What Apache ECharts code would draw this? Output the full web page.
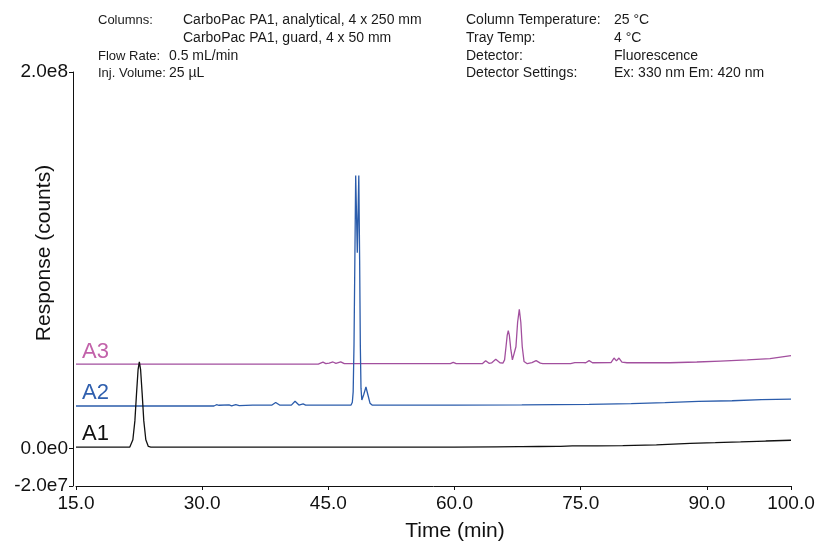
<!DOCTYPE html>
<html>
<head>
<meta charset="utf-8">
<script src="https://cdn.jsdelivr.net/npm/echarts@6/dist/echarts.min.js"></script>
<style>html,body{margin:0;padding:0;background:#fff}#c{width:820px;height:544px}</style>
</head>
<body>
<div id="c"></div>
<script>
// ---- data ----
var seriesNames = ['A1', 'A2', 'A3'];
var xTicks = [15, 30, 45, 60, 75, 90, 100];
var yTicks = [-2e7, 0, 2e8];
var xTitle = 'Time (min)';
var yTitle = 'Response (counts)';

var A1 = [
  [15, 0.7e6], [21.4, 0.7e6], [21.76, 4.6e6], [22.0, 14.6e6], [22.2, 29.5e6], [22.38, 41.8e6],
  [22.53, 46e6], [22.68, 41.8e6], [22.86, 29.5e6], [23.06, 14.6e6], [23.3, 4.6e6], [23.6, 1e6],
  [23.9, 0.7e6], [45, 0.7e6], [60, 0.7e6], [65, 0.8e6], [67.6, 0.9e6], [67.8, 1.5e6], [68.0, 0.9e6],
  [70, 1.0e6], [72.2, 1.1e6], [72.4, 1.6e6], [72.6, 1.1e6], [74, 1.3e6], [77, 1.3e6], [80, 1.5e6],
  [84, 1.9e6], [88, 2.7e6], [91, 3.0e6], [94, 3.4e6], [97, 3.9e6], [100, 4.3e6]
];

var A2 = [
  [15, 22.5e6], [31.4, 22.5e6], [31.7, 23.2e6], [32.0, 22.9e6], [33.2, 23.1e6], [33.5, 22.6e6],
  [34.0, 23.2e6], [34.4, 22.7e6], [36, 23e6], [38.3, 23e6], [38.74, 24.4e6], [39.2, 23e6],
  [40.6, 23e6], [41.04, 25e6], [41.5, 23e6], [42.0, 23.6e6], [42.3, 23e6], [47.7, 23e6],
  [47.85, 24.5e6], [47.95, 30e6], [48.05, 55e6], [48.15, 100e6], [48.25, 145e6], [48.44, 104e6],
  [48.62, 145e6], [48.72, 100e6], [48.8, 55e6], [48.88, 32e6], [48.98, 25.7e6], [49.2, 28.5e6],
  [49.47, 32.6e6], [49.7, 28.5e6], [49.95, 24e6], [50.2, 23e6], [60, 23e6], [68, 23.1e6],
  [76, 23.4e6], [81, 23.8e6], [85, 24.3e6], [89, 25e6], [93, 25.3e6], [96.5, 25.9e6], [100, 26.2e6]
];

var A3 = [
  [15, 44.8e6], [43.8, 44.8e6], [44.36, 45.8e6], [44.7, 45e6], [45.1, 45.3e6], [45.55, 45.9e6],
  [45.9, 45.2e6], [46.47, 46e6], [46.9, 45e6], [59.5, 45e6], [59.85, 45.7e6], [60.2, 45e6],
  [63.3, 45e6], [63.7, 46.6e6], [64.1, 45.2e6], [64.4, 45.4e6], [64.9, 47.3e6], [65.4, 45.5e6],
  [65.75, 45.3e6], [65.95, 47e6], [66.12, 54e6], [66.26, 60e6], [66.39, 62.5e6], [66.52, 60e6],
  [66.68, 53e6], [66.88, 47e6], [67.07, 46.6e6], [67.3, 54e6], [67.5, 67e6], [67.7, 73.9e6],
  [67.88, 67e6], [68.05, 54e6], [68.26, 46.2e6], [68.65, 45e6], [69.2, 45.6e6], [69.7, 46.6e6],
  [70.2, 45.3e6], [70.5, 45e6], [73.8, 45e6], [74.3, 45.6e6], [75.3, 45.6e6], [75.6, 45.5e6],
  [76.0, 46.6e6], [76.4, 45.5e6], [78.6, 45.6e6], [78.96, 48e6], [79.25, 46.5e6], [79.55, 48e6],
  [79.9, 45.8e6], [80.5, 45.5e6], [85.6, 45.5e6], [88.8, 45.9e6], [91.6, 46.4e6], [94.8, 47e6],
  [97.5, 47.7e6], [100, 49.3e6]
];

var headerLeftLabels = ['Columns:', '', 'Flow Rate:', 'Inj. Volume:'];
var headerLeftValues = ['CarboPac PA1, analytical, 4 x 250 mm', 'CarboPac PA1, guard, 4 x 50 mm', '0.5 mL/min', '25 µL'];
var headerRightLabels = ['Column Temperature:', 'Tray Temp:', 'Detector:', 'Detector Settings:'];
var headerRightValues = ['25 °C', '4 °C', 'Fluorescence', 'Ex: 330 nm Em: 420 nm'];

// ---- style ----
var FONT = '"Liberation Sans", Arial, Helvetica, sans-serif';
var lineColors = ['#111111', '#2b5cab', '#a24f9e'];
var labelColors = ['#111111', '#2f5fae', '#c262aa'];

var chart = echarts.init(document.getElementById('c'), null, {renderer: 'canvas'});

function txt(x, y, s, size, extra) {
  return Object.assign({type: 'text', x: x, y: y,
    style: {text: s, fontFamily: FONT, fontSize: size, fill: '#1a1a1a', align: 'left', verticalAlign: 'middle'}}, extra || {});
}

var graphics = [];
var rowY = [20, 38, 56, 73];
var leftValX = [183, 183, 169, 169];
for (var i = 0; i < 4; i++) {
  if (headerLeftLabels[i]) graphics.push(txt(98, rowY[i], headerLeftLabels[i], 13));
  graphics.push(txt(leftValX[i], rowY[i], headerLeftValues[i], 14));
  graphics.push(txt(466, rowY[i], headerRightLabels[i], 14));
  graphics.push(txt(614, rowY[i], headerRightValues[i], 14));
}
// axis titles
graphics.push({type: 'text', x: 455, y: 531, style: {text: xTitle, fontFamily: FONT, fontSize: 21, fill: '#111', align: 'center', verticalAlign: 'middle'}});
graphics.push({type: 'text', x: 44, y: 253, rotation: Math.PI / 2, style: {text: yTitle, fontFamily: FONT, fontSize: 21, fill: '#111', align: 'center', verticalAlign: 'middle'}});
// series labels
var seriesLabelY = [434, 393, 352];
for (var k = 0; k < 3; k++) {
  graphics.push({type: 'text', x: 82, y: seriesLabelY[k], style: {text: seriesNames[k], fontFamily: FONT, fontSize: 22, fill: labelColors[k], align: 'left', verticalAlign: 'middle'}});
}

function yFmt(v) {
  if (v === 0) return '0.0e0';
  return v.toExponential(1).replace('+', '');
}

var datasets = [A1, A2, A3];
var option = {
  animation: false,
  backgroundColor: '#ffffff',
  grid: {left: 76, right: 29, top: 72, bottom: 58, containLabel: false},
  xAxis: {
    type: 'value', min: 15, max: 100,
    axisLine: {show: true, onZero: false, lineStyle: {color: '#111', width: 1}},
    axisTick: {show: true, length: 4, customValues: xTicks, lineStyle: {color: '#111'}},
    axisLabel: {customValues: xTicks, formatter: function (v) { return v.toFixed(1); }, fontFamily: FONT, fontSize: 19, color: '#111', margin: 8},
    splitLine: {show: false}
  },
  yAxis: {
    type: 'value', min: -2e7, max: 2e8, offset: 3,
    axisLine: {show: true, onZero: false, lineStyle: {color: '#111', width: 1}},
    axisTick: {show: true, length: 4, customValues: yTicks, lineStyle: {color: '#111'}},
    axisLabel: {customValues: yTicks, formatter: yFmt, fontFamily: FONT, fontSize: 19, color: '#111', margin: 5},
    splitLine: {show: false}
  },
  series: datasets.map(function (d, i) {
    return {
      name: seriesNames[i], type: 'line', data: d, showSymbol: false, symbol: 'none',
      lineStyle: {color: lineColors[i], width: 1.3}, z: 3 - i
    };
  }),
  graphic: graphics
};
chart.setOption(option);
</script>
</body>
</html>
